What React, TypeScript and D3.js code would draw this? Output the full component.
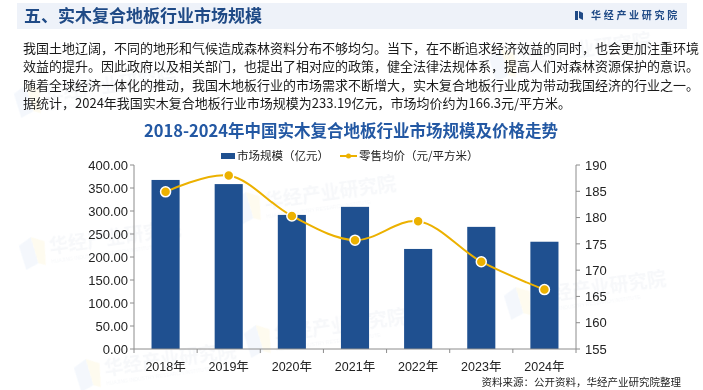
import { useMemo } from "react";
import * as d3 from "d3";

const years = ["2018年", "2019年", "2020年", "2021年", "2022年", "2023年", "2024年"];
const marketSize = [367.5, 358.5, 291.5, 309.0, 217.5, 265.5, 233.19];
const avgPrice = [184.9, 188.0, 180.3, 175.7, 179.3, 171.6, 166.3];
const leftTicks = [0, 50, 100, 150, 200, 250, 300, 350, 400];
const rightTicks = [155, 160, 165, 170, 175, 180, 185, 190];

const paragraph = [
  "我国土地辽阔，不同的地形和气候造成森林资料分布不够均匀。当下，在不断追求经济效益的同时，也会更加注重环境",
  "效益的提升。因此政府以及相关部门，也提出了相对应的政策，健全法律法规体系，提高人们对森林资源保护的意识。",
  "随着全球经济一体化的推动，我国木地板行业的市场需求不断增大，实木复合地板行业成为带动我国经济的行业之一。",
  "据统计，2024年我国实木复合地板行业市场规模为233.19亿元，市场均价约为166.3元/平方米。",
];

const W = 703;
const H = 390;
const CJK = "'Noto Sans CJK SC', 'Noto Sans', sans-serif";
const SANS = "'Liberation Sans', Arial, sans-serif";
const BAR = "#1f5090";
const GOLD = "#ecb100";
const AXIS = "#8c8c8c";

const plot = { left: 134, right: 576, top: 165, bottom: 349 };

// faint background watermarks, kept inside the page
const watermarks = [
  { x: 545, y: 62 },
  { x: 75, y: 250 },
  { x: 290, y: 205 },
  { x: 300, y: 338 },
  { x: 560, y: 300 },
  { x: 130, y: 372 },
  { x: 70, y: 98 },
];

export default function App() {
  const x = useMemo(
    () => d3.scaleBand<string>().domain(years).range([plot.left, plot.right]).paddingInner(0.555).paddingOuter(0.2775),
    []
  );
  const yL = useMemo(() => d3.scaleLinear().domain([0, 400]).range([plot.bottom, plot.top]), []);
  const yR = useMemo(() => d3.scaleLinear().domain([155, 190]).range([plot.bottom, plot.top]), []);

  const step = (plot.right - plot.left) / years.length;
  const cx = (i: number) => (x(years[i]) ?? 0) + x.bandwidth() / 2;

  const linePath = d3
    .line<number>()
    .x((_, i) => cx(i))
    .y((d) => yR(d))
    .curve(d3.curveCatmullRom.alpha(0.5))(avgPrice);

  return (
    <svg width={W} height={H} style={{ position: "absolute", left: 0, top: 0, background: "#fff" }}>
      <g opacity={0.45}>
        {watermarks.map((w, i) => (
          <g key={i} transform={`translate(${w.x},${w.y}) rotate(-8)`}>
            <path d="M-55,-12 L-42,-19 L-38,8 L-51,13 Z" fill="#e6eef9" />
            <path d="M-42,-19 L-29,-13 L-31,11 L-38,8 Z" fill="#fdf6dc" />
            <text x={-25} y={0} fontFamily={CJK} fontWeight={700} fontSize={19} fill="#eceff4">
              华经产业研究院
            </text>
            <text x={-25} y={10} fontFamily={SANS} fontSize={5} fill="#eceff4">
              HUAJING INDUSTRY RESEARCH INSTITUTE
            </text>
          </g>
        ))}
      </g>

      {/* header banner */}
      <rect x={17} y={3} width={670} height={26} fill="#eef2f9" />
      <text x={24} y={16} dy="0.36em" fontFamily={CJK} fontWeight={700} fontSize={17} fill="#1f4a86">
        五、实木复合地板行业市场规模
      </text>
      <g fill="#1f4a86">
        <rect x={575} y={11} width={3} height={9} />
        <path d="M579,11 L583,13 L583,20 L579,18 Z" />
      </g>
      <text x={591} y={15.5} dy="0.36em" fontFamily={CJK} fontWeight={700} fontSize={10} letterSpacing={2.7} fill="#1f4a86">
        华经产业研究院
      </text>

      {/* paragraph */}
      {paragraph.map((line, i) => (
        <text key={i} x={23} y={48 + i * 18.5} dy="0.36em" fontFamily={CJK} fontSize={13} fill="#1a1a1a">
          {line}
        </text>
      ))}

      {/* chart title */}
      <text x={351} y={131} dy="0.36em" textAnchor="middle" fontFamily={CJK} fontWeight={700} fontSize={16.5} fill="#2358a3">
        2018-2024年中国实木复合地板行业市场规模及价格走势
      </text>

      {/* legend */}
      <rect x={221} y={153} width={14} height={6} fill={BAR} />
      <text x={237} y={156} dy="0.36em" fontFamily={CJK} fontSize={11.5} fill="#222">
        市场规模（亿元）
      </text>
      <line x1={340} x2={357} y1={156} y2={156} stroke={GOLD} strokeWidth={2} />
      <circle cx={348.5} cy={156} r={2.5} fill={GOLD} />
      <text x={359} y={156} dy="0.36em" fontFamily={CJK} fontSize={11.5} fill="#222">
        零售均价（元/平方米）
      </text>

      {/* bars */}
      {marketSize.map((v, i) => (
        <rect key={years[i]} x={x(years[i])} y={yL(v)} width={x.bandwidth()} height={yL(0) - yL(v)} fill={BAR} />
      ))}

      {/* price line */}
      <path d={linePath ?? ""} fill="none" stroke={GOLD} strokeWidth={2} />
      {avgPrice.map((v, i) => (
        <circle key={i} cx={cx(i)} cy={yR(v)} r={5} fill={GOLD} stroke="#fff" strokeWidth={1.5} />
      ))}

      {/* left axis */}
      <line x1={plot.left} x2={plot.left} y1={plot.top} y2={plot.bottom} stroke={AXIS} />
      {leftTicks.map((t) => (
        <g key={t}>
          <line x1={plot.left - 4} x2={plot.left} y1={yL(t)} y2={yL(t)} stroke={AXIS} />
          <text x={plot.left - 6} y={yL(t)} dy="0.36em" textAnchor="end" fontFamily={SANS} fontSize={13} fill="#222">
            {t.toFixed(2)}
          </text>
        </g>
      ))}

      {/* right axis */}
      <line x1={plot.right} x2={plot.right} y1={plot.top} y2={plot.bottom} stroke={AXIS} />
      {rightTicks.map((t) => (
        <g key={t}>
          <line x1={plot.right} x2={plot.right + 4} y1={yR(t)} y2={yR(t)} stroke={AXIS} />
          <text x={plot.right + 9} y={yR(t)} dy="0.36em" fontFamily={SANS} fontSize={13} fill="#222">
            {t}
          </text>
        </g>
      ))}

      {/* x axis */}
      <line x1={plot.left} x2={plot.right} y1={plot.bottom} y2={plot.bottom} stroke={AXIS} />
      {d3.range(years.length + 1).map((k) => (
        <line key={k} x1={plot.left + k * step} x2={plot.left + k * step} y1={plot.bottom} y2={plot.bottom + 4} stroke={AXIS} />
      ))}
      {years.map((yr, i) => (
        <text key={yr} x={cx(i)} y={366} dy="0.36em" textAnchor="middle" fontFamily={SANS} fontSize={12.5} fill="#222">
          {yr.replace("年", "")}
          <tspan fontFamily={CJK}>年</tspan>
        </text>
      ))}

      {/* source */}
      <text x={681} y={382} dy="0.36em" textAnchor="end" fontFamily={CJK} fontSize={10.5} fill="#222">
        资料来源：公开资料，华经产业研究院整理
      </text>
    </svg>
  );
}
